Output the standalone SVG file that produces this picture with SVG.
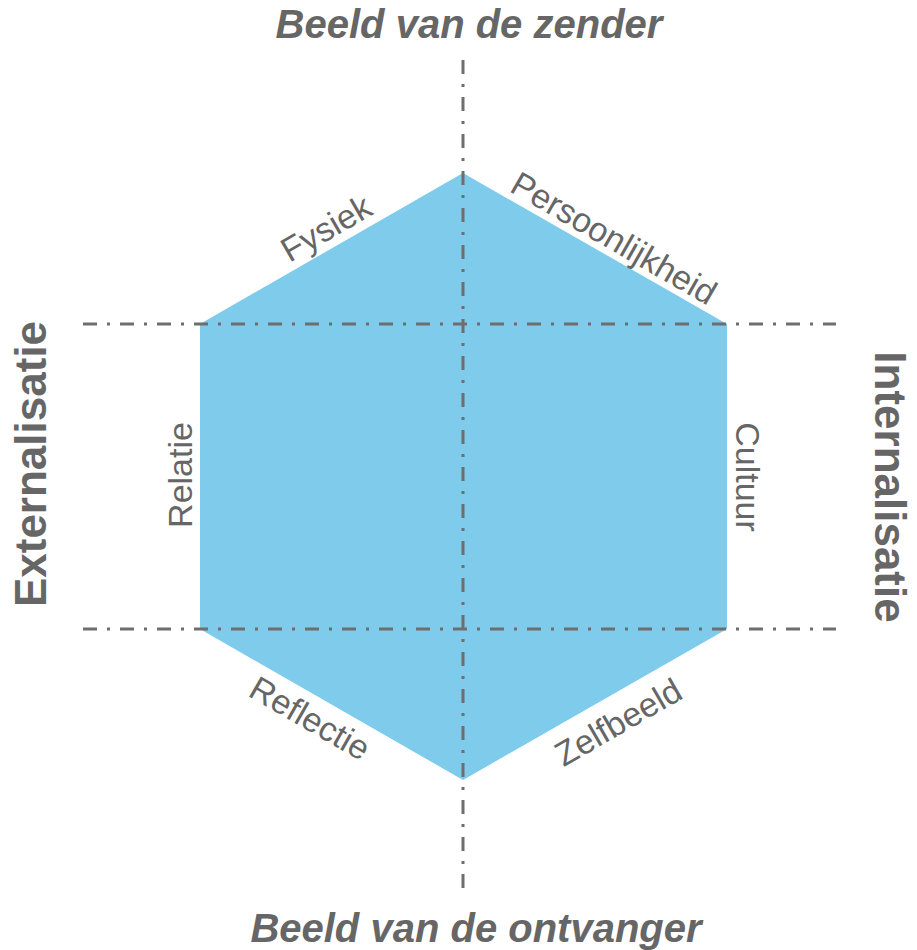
<svg xmlns="http://www.w3.org/2000/svg" width="917" height="950" viewBox="0 0 917 950">
  <style>
    .axis { stroke: #6e6e6e; stroke-width: 3; stroke-dasharray: 14 10 3 10; fill: none; }
    .side { font-family: "Liberation Sans", Arial, sans-serif; font-size: 34px; fill: #666666; text-anchor: middle; }
    .title { font-family: "Liberation Sans", Arial, sans-serif; font-size: 40px; font-weight: bold; font-style: italic; fill: #666666; text-anchor: middle; }
    .dim { font-family: "Liberation Sans", Arial, sans-serif; font-size: 44px; font-weight: bold; fill: #666666; text-anchor: middle; }
  </style>
  <rect width="917" height="950" fill="#ffffff"/>

  <!-- central hexagon -->
  <g id="hexagon">
    <polygon points="463,173 727,324 727,629 463,780 200,629 200,324" fill="#7fcbeb"/>
  </g>

  <!-- dash-dot axes -->
  <g id="axes">
    <line class="axis" x1="463" y1="60" x2="463" y2="896"/>
    <line class="axis" x1="83" y1="324" x2="836" y2="324"/>
    <line class="axis" x1="83" y1="629" x2="836" y2="629"/>
  </g>

  <!-- edge labels -->
  <g id="label-fysiek"><text class="side" transform="translate(326,228) rotate(-30)" y="12">Fysiek</text></g>
  <g id="label-persoonlijkheid"><text class="side" transform="translate(614,238) rotate(30)" y="12">Persoonlijkheid</text></g>
  <g id="label-relatie"><text class="side" transform="translate(180,475) rotate(-90)" y="12">Relatie</text></g>
  <g id="label-cultuur"><text class="side" transform="translate(748,477) rotate(90)" y="12">Cultuur</text></g>
  <g id="label-reflectie"><text class="side" transform="translate(310,718) rotate(30)" y="12">Reflectie</text></g>
  <g id="label-zelfbeeld"><text class="side" transform="translate(618,722) rotate(-30)" y="12">Zelfbeeld</text></g>

  <!-- axis titles -->
  <g id="title-zender"><text class="title" x="469" y="38">Beeld van de zender</text></g>
  <g id="title-ontvanger"><text class="title" x="476" y="942">Beeld van de ontvanger</text></g>
  <g id="title-externalisatie"><text class="dim" transform="translate(46,464) rotate(-90)">Externalisatie</text></g>
  <g id="title-internalisatie"><text class="dim" transform="translate(875,487) rotate(90)">Internalisatie</text></g>
</svg>
